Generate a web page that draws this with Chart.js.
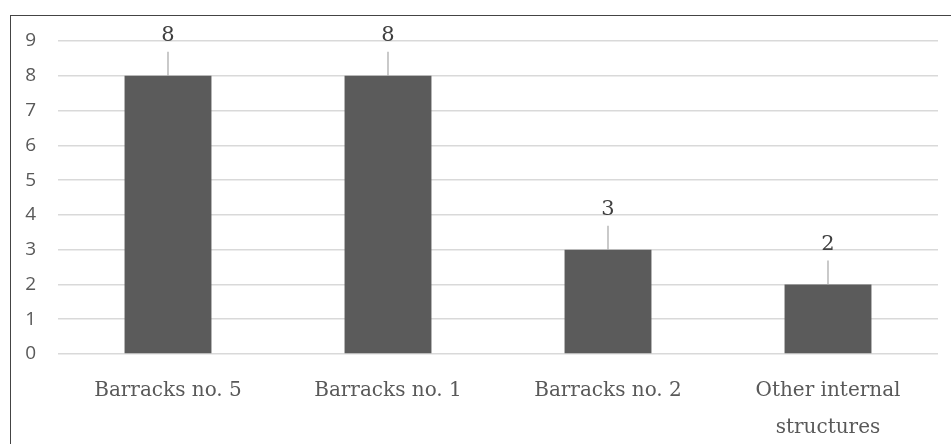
<!DOCTYPE html>
<html><head><meta charset="utf-8">
<script src="https://cdn.jsdelivr.net/npm/chart.js@4/dist/chart.umd.min.js"></script>
<style>
html,body{margin:0;padding:0;background:#fff;overflow:hidden;width:951px;height:444px;}
#wrap{position:absolute;left:0;top:0;width:951px;height:444px;}
#frame{position:absolute;left:10px;top:15px;width:980px;height:480px;border:1.5px solid #444;box-sizing:border-box;pointer-events:none;}
</style></head>
<body>
<div id="wrap"><canvas id="c" width="951" height="444"></canvas></div>
<div id="frame"></div>
<script>
const categories = [["Barracks no. 5"], ["Barracks no. 1"], ["Barracks no. 2"], ["Other internal", "structures"]];
const values = [8, 8, 3, 2];
const yTicks = [0,1,2,3,4,5,6,7,8,9];

const leaderLabels = {
  id: 'leaderLabels',
  afterDatasetsDraw(chart) {
    const ctx = chart.ctx;
    const meta = chart.getDatasetMeta(0);
    ctx.save();
    meta.data.forEach((bar, i) => {
      const x = bar.x, y = bar.y;
      ctx.strokeStyle = '#a6a6a6';
      ctx.lineWidth = 1.2;
      ctx.beginPath();
      ctx.moveTo(x, y - 24);
      ctx.lineTo(x, y);
      ctx.stroke();
      ctx.fillStyle = '#404040';
      ctx.font = '21px "DejaVu Serif", "Liberation Serif", serif';
      ctx.textAlign = 'center';
      ctx.textBaseline = 'middle';
      ctx.fillText(String(values[i]), x, y - 40);
    });
    ctx.restore();
  }
};

new Chart(document.getElementById('c'), {
  type: 'bar',
  data: {
    labels: categories,
    datasets: [{
      data: values,
      backgroundColor: '#5b5b5b',
      borderWidth: 0,
      barPercentage: 0.395,
      categoryPercentage: 1.0
    }]
  },
  options: {
    responsive: false,
    animation: false,
    layout: { padding: { top: 41, right: 13, left: 0, bottom: 0 } },
    plugins: { legend: { display: false }, tooltip: { enabled: false } },
    scales: {
      y: {
        min: 0, max: 9,
        afterBuildTicks(s) { s.ticks = yTicks.map(v => ({ value: v })); },
        afterFit(s) { s.width = 58; },
        grid: { color: '#d9d9d9', lineWidth: 1.5, drawTicks: false },
        border: { display: false },
        ticks: { color: '#595959', padding: 22, font: { family: '"Open Sans", sans-serif', size: 19 } }
      },
      x: {
        afterFit(s) { s.height = 90; },
        grid: { display: false, drawTicks: false },
        border: { display: false },
        ticks: { color: '#595959', padding: 18, maxRotation: 0, autoSkip: false,
          font: { family: '"DejaVu Serif", "Liberation Serif", serif', size: 20, lineHeight: 1.85 } }
      }
    }
  },
  plugins: [leaderLabels]
});
</script>
</body></html>
